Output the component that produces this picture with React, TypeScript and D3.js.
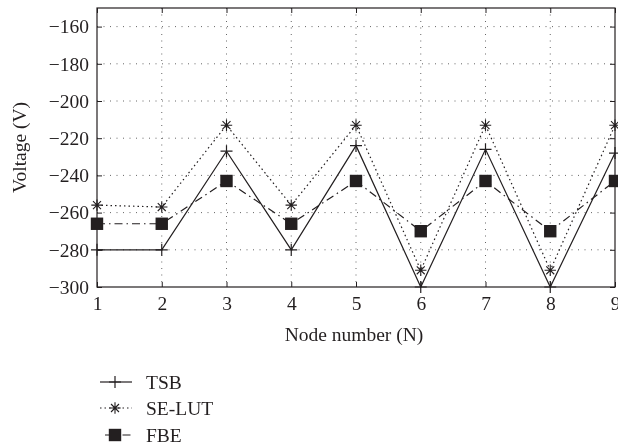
import { useEffect, useRef } from 'react'
import * as d3 from 'd3'

const nodes = [1, 2, 3, 4, 5, 6, 7, 8, 9]
const tsb = [-280, -280, -227, -280, -224, -300, -226, -300, -228]
const seLut = [-256, -257, -213, -256, -213, -291, -213, -291, -213]
const fbe = [-266, -266, -243, -266, -243, -270, -243, -270, -243]
const yTicks = [-300, -280, -260, -240, -220, -200, -180, -160]

const series = [
  { name: 'TSB', values: tsb, dash: null, marker: 'plus' },
  { name: 'SE-LUT', values: seLut, dash: '1.5,3', marker: 'star' },
  { name: 'FBE', values: fbe, dash: '8,4,1.5,4', marker: 'square' },
]

const FONT = "'Liberation Serif', 'Times New Roman', Times, 'DejaVu Serif', serif"
const FS = 19.5

const App = () => {
  const svgRef = useRef<SVGSVGElement>(null)
  const width = 618
  const height = 448

  useEffect(() => {
    const left = 97
    const right = 615
    const top = 8
    const bottom = 287
    const ink = '#231f20'

    const x = d3.scaleLinear([1, 9], [left, right])
    const y = d3.scaleLinear([-300, -150], [bottom, top])

    const svg = d3.select(svgRef.current)
    svg.selectAll('*').remove()

    // grid
    const grid = svg.append('g').attr('stroke', '#666').attr('stroke-width', 1).attr('stroke-dasharray', '1,5.5')
    grid.selectAll('.gy').data(yTicks.filter((t) => t > -300)).join('line')
      .attr('x1', left).attr('x2', right)
      .attr('y1', (d) => y(d)).attr('y2', (d) => y(d))
    grid.selectAll('.gx').data(nodes.slice(1, -1)).join('line')
      .attr('y1', top).attr('y2', bottom)
      .attr('x1', (d) => x(d)).attr('x2', (d) => x(d))

    // axes
    const yAxis = d3.axisLeft(y).tickValues(yTicks).tickSizeInner(-5).tickSizeOuter(0).tickPadding(8)
      .tickFormat((d) => String(d).replace('-', '\u2212'))
    const xAxis = d3.axisBottom(x).tickValues(nodes).tickSizeInner(-5).tickSizeOuter(0).tickPadding(9)

    const styleAxis = (g: any) => {
      g.attr('font-family', FONT).attr('font-size', FS)
      g.select('.domain').remove()
      g.selectAll('.tick line').attr('stroke', ink)
      g.selectAll('.tick text').attr('fill', ink)
    }
    svg.append('g').attr('transform', `translate(${left},0)`).call(yAxis).call(styleAxis)
    svg.append('g').attr('transform', `translate(0,${bottom})`).call(xAxis).call(styleAxis)
    svg.append('g').attr('transform', `translate(${right},0)`)
      .call(d3.axisRight(y).tickValues(yTicks).tickSizeInner(-5).tickSizeOuter(0).tickFormat(() => ''))
      .call(styleAxis)
    svg.append('g').attr('transform', `translate(0,${top})`)
      .call(d3.axisTop(x).tickValues(nodes).tickSizeInner(-5).tickSizeOuter(0).tickFormat(() => ''))
      .call(styleAxis)

    svg.append('rect')
      .attr('x', left).attr('y', top).attr('width', right - left).attr('height', bottom - top)
      .attr('fill', 'none').attr('stroke', ink).attr('stroke-width', 1.2)

    const drawMarker = (g: any, type: string, cx: number, cy: number) => {
      if (type === 'plus') {
        g.append('path').attr('d', `M${cx - 6},${cy}H${cx + 6}M${cx},${cy - 6}V${cy + 6}`)
          .attr('stroke', ink).attr('stroke-width', 1.2)
      } else if (type === 'star') {
        const r = 5.7
        const p = r * 0.7
        g.append('path')
          .attr('d', `M${cx - r},${cy}H${cx + r}M${cx - p},${cy - p}L${cx + p},${cy + p}M${cx - p},${cy + p}L${cx + p},${cy - p}M${cx},${cy - r}V${cy + r}`)
          .attr('stroke', ink).attr('stroke-width', 1.1)
      } else {
        g.append('rect').attr('x', cx - 6.2).attr('y', cy - 6.2).attr('width', 12.4).attr('height', 12.4).attr('fill', ink)
      }
    }

    const line = d3.line<number>().x((d, i) => x(nodes[i])).y((d) => y(d))

    series.forEach((s) => {
      const g = svg.append('g')
      g.append('path').attr('d', line(s.values)).attr('fill', 'none').attr('stroke', ink)
        .attr('stroke-width', 1.2).attr('stroke-dasharray', s.dash)
      s.values.forEach((v, i) => drawMarker(g, s.marker, x(nodes[i]), y(v)))
    })

    // axis labels
    svg.append('text').attr('x', 354).attr('y', 341).attr('text-anchor', 'middle')
      .attr('font-family', FONT).attr('font-size', FS).attr('fill', ink).text('Node number (N)')
    svg.append('text').attr('transform', `translate(26,${(top + bottom) / 2}) rotate(-90)`)
      .attr('text-anchor', 'middle')
      .attr('font-family', FONT).attr('font-size', FS).attr('fill', ink).text('Voltage (V)')

    // legend
    const legendY = [382, 408, 435]
    series.forEach((s, i) => {
      const g = svg.append('g')
      const ly = legendY[i]
      g.append('line').attr('x1', s.marker === 'square' ? 105 : 100).attr('x2', 132).attr('y1', ly).attr('y2', ly)
        .attr('stroke', ink).attr('stroke-width', 1.2).attr('stroke-dasharray', s.dash)
      drawMarker(g, s.marker, 115, ly)
      g.append('text').attr('x', 146).attr('y', ly + 6.5)
        .attr('font-family', FONT).attr('font-size', FS).attr('fill', ink).text(s.name)
    })
  }, [])

  return (
    <svg
      ref={svgRef}
      width={width}
      height={height}
      style={{ position: 'fixed', left: 0, top: 0, display: 'block' }}
    />
  )
}

export default App
